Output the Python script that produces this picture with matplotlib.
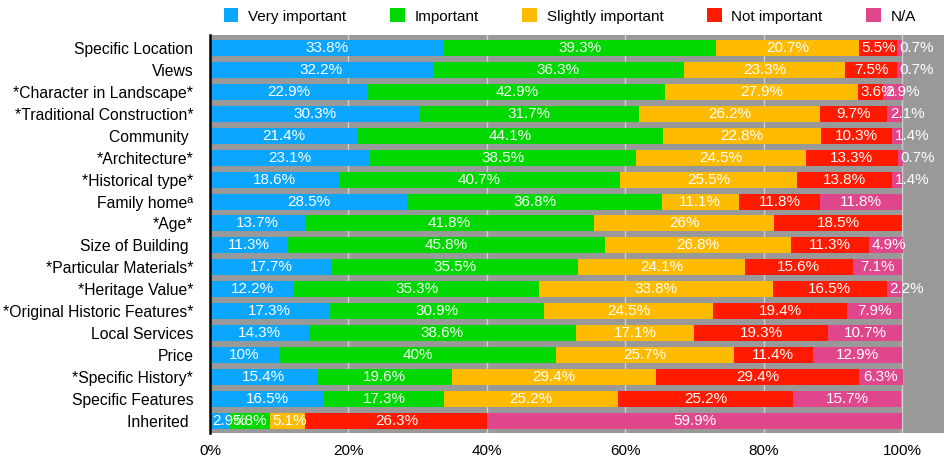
import matplotlib
matplotlib.use("Agg")
import matplotlib.pyplot as plt
from matplotlib.patches import Patch
import numpy as np

plt.rcParams['font.family'] = ['Liberation Sans', 'DejaVu Sans']

categories = ["Specific Location", "Views", "*Character in Landscape*",
              "*Traditional Construction*", "Community ", "*Architecture*",
              "*Historical type*", "Family homeª", "*Age*", "Size of Building ",
              "*Particular Materials*", "*Heritage Value*",
              "*Original Historic Features*", "Local Services", "Price",
              "*Specific History*", "Specific Features", "Inherited "]

series_names = ["Very important", "Important", "Slightly important",
                "Not important", "N/A"]

very_important = [33.8, 32.2, 22.9, 30.3, 21.4, 23.1, 18.6, 28.5, 13.7, 11.3,
                  17.7, 12.2, 17.3, 14.3, 10, 15.4, 16.5, 2.9]
important = [39.3, 36.3, 42.9, 31.7, 44.1, 38.5, 40.7, 36.8, 41.8, 45.8,
             35.5, 35.3, 30.9, 38.6, 40, 19.6, 17.3, 5.8]
slightly_important = [20.7, 23.3, 27.9, 26.2, 22.8, 24.5, 25.5, 11.1, 26, 26.8,
                      24.1, 33.8, 24.5, 17.1, 25.7, 29.4, 25.2, 5.1]
not_important = [5.5, 7.5, 3.6, 9.7, 10.3, 13.3, 13.8, 11.8, 18.5, 11.3,
                 15.6, 16.5, 19.4, 19.3, 11.4, 29.4, 25.2, 26.3]
not_applicable = [0.7, 0.7, 2.9, 2.1, 1.4, 0.7, 1.4, 11.8, 0, 4.9,
                  7.1, 2.2, 7.9, 10.7, 12.9, 6.3, 15.7, 59.9]

xticks = [0, 20, 40, 60, 80, 100]
xtick_labels = ["0%", "20%", "40%", "60%", "80%", "100%"]

colors = ["#0AA6FF", "#00D800", "#FFBB00", "#FF1A00", "#E0468C"]

series = [very_important, important, slightly_important, not_important,
          not_applicable]

fig = plt.figure(figsize=(9.45, 4.59), dpi=100)
ax = fig.add_axes([210 / 945, 1 - 433 / 459, 1 - 210 / 945, (433 - 35) / 459])
ax.set_facecolor("#999999")

y = np.arange(len(categories))
left = np.zeros(len(categories))
for vals, col, name in zip(series, colors, series_names):
    vals = np.array(vals, dtype=float)
    ax.barh(y, vals, left=left, height=0.73, color=col, label=name, zorder=2)
    for yi, (l, v) in enumerate(zip(left, vals)):
        if v <= 0:
            continue
        txt = f"{v:g}%"
        if v < 6:
            ax.text(l + 0.35, yi, txt, ha="left", va="center", color="white",
                    fontsize=11, zorder=3)
        else:
            ax.text(l + v / 2, yi, txt, ha="center", va="center",
                    color="white", fontsize=11, zorder=3)
    left += vals

ax.set_xlim(0, (945 - 210) / 6.92)
ax.set_ylim(len(categories) - 1 + 0.55, -0.59)
ax.set_yticks(y)
ax.set_yticklabels(categories, fontsize=11.3)
ax.set_xticks(xticks)
ax.set_xticklabels(xtick_labels, fontsize=11)
ax.tick_params(axis="both", length=0)
ax.tick_params(axis="y", pad=12)
ax.tick_params(axis="x", pad=8)
ax.grid(axis="x", color="#cfcfcf", linewidth=1.0, zorder=1)
ax.set_axisbelow(True)
for s in ["top", "right", "bottom"]:
    ax.spines[s].set_visible(False)
ax.spines["left"].set_color("black")
ax.spines["left"].set_linewidth(1.8)
ax.spines["left"].set_zorder(4)

handles = [Patch(facecolor=c, edgecolor="none") for c in colors]
fig.legend(handles, series_names, loc="center", bbox_to_anchor=(570 / 945, 1 - 16 / 459),
           ncol=5, frameon=False, fontsize=11, handlelength=0.95, handleheight=1.0,
           handletextpad=0.65, columnspacing=2.85, borderaxespad=0)

fig.savefig("out.png", dpi=100)
